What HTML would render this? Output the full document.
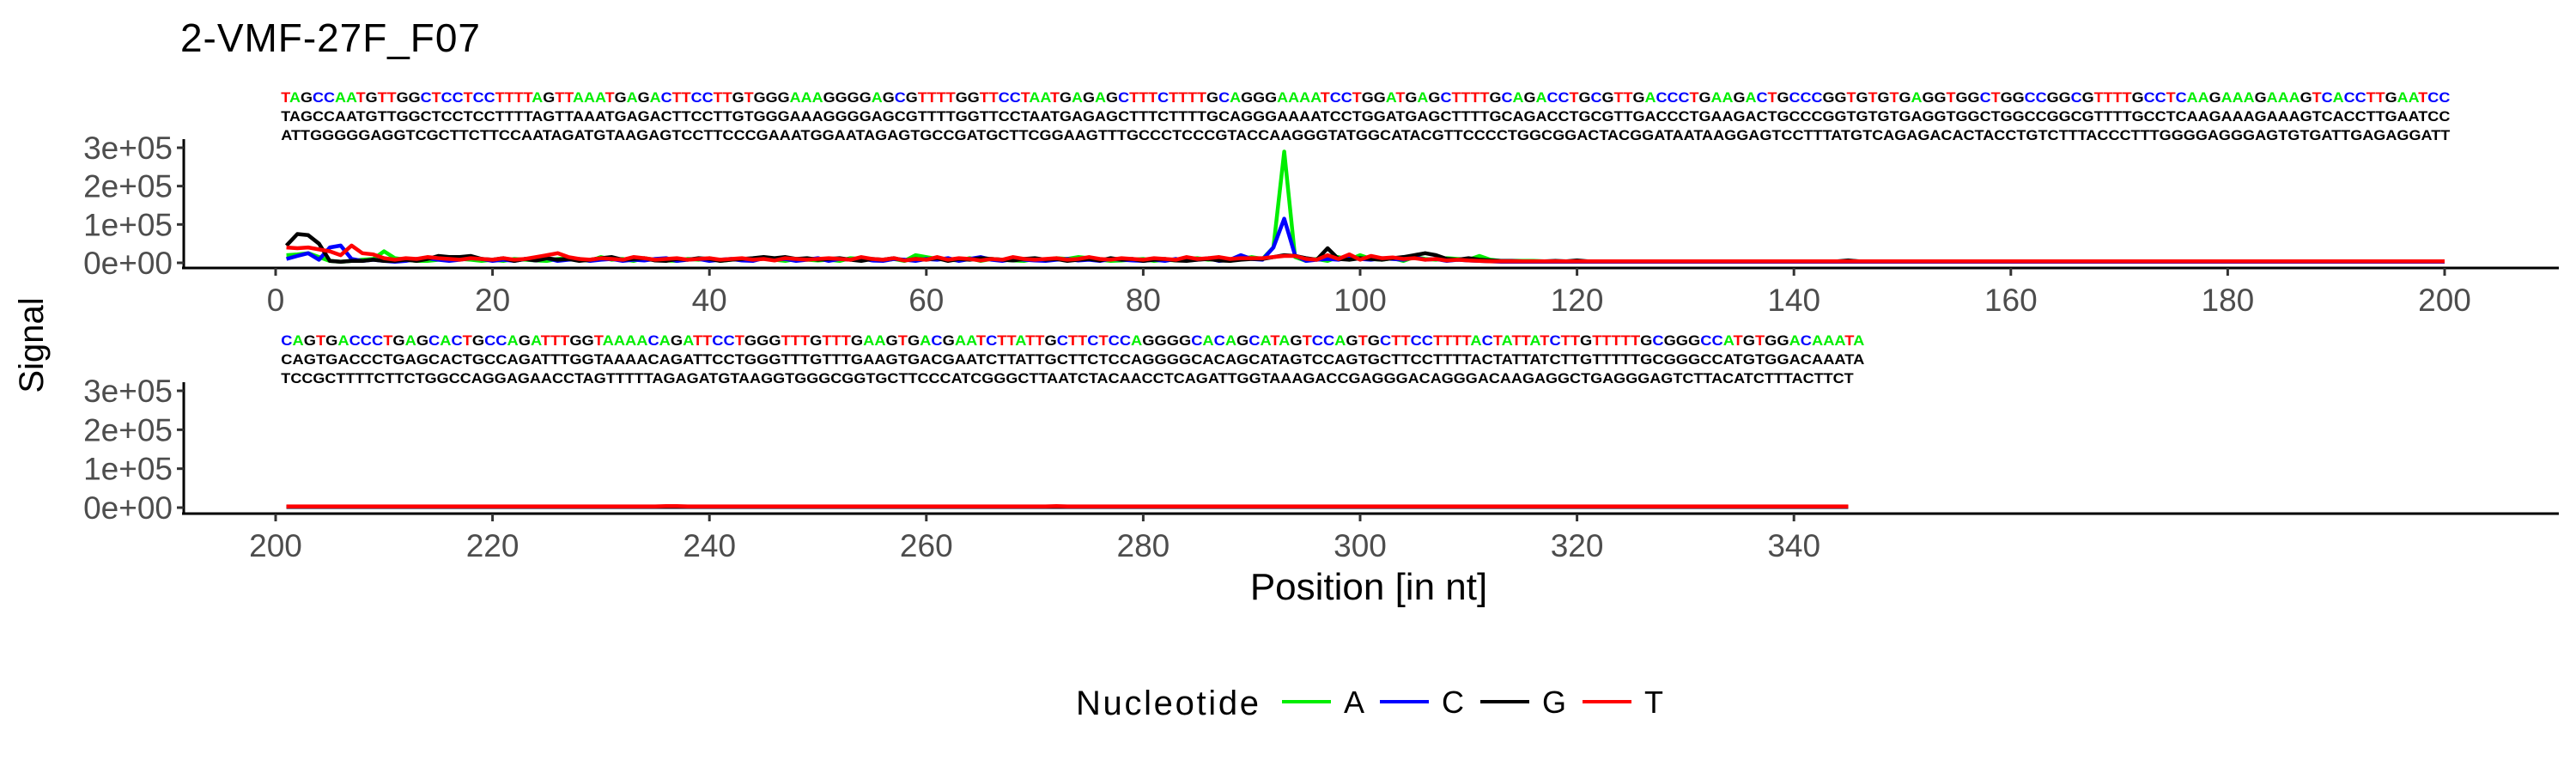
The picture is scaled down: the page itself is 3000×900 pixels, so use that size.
<!DOCTYPE html>
<html><head><meta charset="utf-8"><style>
html,body{margin:0;padding:0;background:#fff;}
svg{display:block;font-family:"Liberation Sans",Arial,sans-serif;}
</style></head><body>
<svg id="chart" width="3000" height="900" viewBox="0 0 3000 900" xmlns="http://www.w3.org/2000/svg">
<rect width="3000" height="900" fill="#fff"/>
<text x="210" y="60" font-size="46" textLength="349" fill="#000">2-VMF-27F_F07</text>
<text transform="translate(50,402) rotate(-90)" font-size="40" text-anchor="middle" fill="#000">Signal</text>
<text x="1594" y="698" font-size="44" text-anchor="middle" fill="#000">Position [in nt]</text>
<g id="legend">
<text x="1253" y="832" font-size="40" textLength="213" fill="#000">Nucleotide</text>
</g>
<g id="plot"></g>
</svg>
<script>
// ---- data (signal values in thousands) ----
const bases = ["A","C","G","T"];
const seq1Called = "TAGCCAATGTTGGCTCCTCCTTTTAGTTAAATGAGACTTCCTTGTGGGAAAGGGGAGCGTTTTGGTTCCTAATGAGAGCTTTCTTTTGCAGGGAAAATCCTGGATGAGCTTTTGCAGACCTGCGTTGACCCTGAAGACTGCCCGGTGTGTGAGGTGGCTGGCCGGCGTTTTGCCTCAAGAAAGAAAGTCACCTTGAATCC";
const seq1Ref = "TAGCCAATGTTGGCTCCTCCTTTTAGTTAAATGAGACTTCCTTGTGGGAAAGGGGAGCGTTTTGGTTCCTAATGAGAGCTTTCTTTTGCAGGGAAAATCCTGGATGAGCTTTTGCAGACCTGCGTTGACCCTGAAGACTGCCCGGTGTGTGAGGTGGCTGGCCGGCGTTTTGCCTCAAGAAAGAAAGTCACCTTGAATCC";
const seq1Rev = "ATTGGGGGAGGTCGCTTCTTCCAATAGATGTAAGAGTCCTTCCCGAAATGGAATAGAGTGCCGATGCTTCGGAAGTTTGCCCTCCCGTACCAAGGGTATGGCATACGTTCCCCTGGCGGACTACGGATAATAAGGAGTCCTTTATGTCAGAGACACTACCTGTCTTTACCCTTTGGGGAGGGAGTGTGATTGAGAGGATT";
const seq2Called = "CAGTGACCCTGAGCACTGCCAGATTTGGTAAAACAGATTCCTGGGTTTGTTTGAAGTGACGAATCTTATTGCTTCTCCAGGGGCACAGCATAGTCCAGTGCTTCCTTTTACTATTATCTTGTTTTTGCGGGCCATGTGGACAAATA";
const seq2Ref = seq2Called;
const seq2Rev = "TCCGCTTTTCTTCTGGCCAGGAGAACCTAGTTTTTAGAGATGTAAGGTGGGCGGTGCTTCCCATCGGGCTTAATCTACAACCTCAGATTGGTAAAGACCGAGGGACAGGGACAAGAGGCTGAGGGAGTCTTACATCTTTACTTCT";

const yTicks = [0,100,200,300];
const yTickLabels = ["0e+00","1e+05","2e+05","3e+05"];
const xTicks1 = [0,20,40,60,80,100,120,140,160,180,200];
const xTicks2 = [200,220,240,260,280,300,320,340];

const sigA1 = [20,22,25,15,5,3,5,8,10,30, 12,8,5,5,8,12,10,8,5,8, 5,10,8,6,5,10,12,8,5,15, 8,10,5,12,8,6,5,10,8,12, 5,8,10,6,12,8,5,10,8,6,
 8,5,12,10,8,6,10,5,20,15, 10,8,6,12,5,10,8,6,5,10, 8,12,10,15,12,8,5,6,8,10, 5,8,6,10,12,8,10,5,10,15, 10,40,290,15,5,10,5,15,8,20,
 10,8,12,5,15,10,8,12,10,8, 18,8,5,5,5,5,4,4,4,4, 3,3,3,3,3,3,3,3,3,3, 3,3,3,3,3,3,3,3,3,3, 3,3,3,3,3,3,3,3,3,3,
 3,3,3,3,3,3,3,3,3,3, 3,3,3,3,3,3,3,3,3,3, 3,3,3,3,3,3,3,3,3,3, 3,3,3,3,3,3,3,3,3,3, 3,3,3,3,3,3,3,3,3,3];
const sigC1 = [10,18,25,8,40,45,10,5,8,5, 3,5,10,12,8,5,8,12,10,5, 8,5,10,6,12,5,8,10,5,8, 10,5,8,6,10,12,5,8,10,5, 8,10,6,5,12,8,10,5,8,12,
 5,10,8,12,6,5,10,8,5,10, 8,12,5,10,15,8,5,10,8,6, 5,8,10,6,8,5,10,8,6,5, 8,5,10,6,8,12,5,8,20,10, 8,40,115,20,5,8,10,8,15,10,
 8,12,10,8,15,8,10,5,8,6, 5,4,3,3,3,3,3,3,3,3, 3,3,3,3,3,3,3,3,3,3, 3,3,3,3,3,3,3,3,3,3, 3,3,3,3,3,3,3,3,3,3,
 3,3,3,3,3,3,3,3,3,3, 3,3,3,3,3,3,3,3,3,3, 3,3,3,3,3,3,3,3,3,3, 3,3,3,3,3,3,3,3,3,3, 3,3,3,3,3,3,3,3,3,3];
const sigG1 = [45,75,72,50,5,3,5,5,8,5, 5,8,5,10,18,15,15,18,10,8, 12,5,10,6,12,8,10,5,8,12, 15,8,10,12,6,5,10,8,12,10, 5,8,10,12,15,12,15,10,12,8,
 10,12,8,5,10,8,12,6,10,8, 12,5,10,8,12,10,8,6,10,12, 8,10,5,8,10,6,12,8,10,5, 8,10,6,5,8,10,6,5,8,10, 10,15,20,18,12,8,38,10,8,12,
 10,8,12,15,20,25,20,10,8,12, 8,6,5,5,4,4,4,5,4,6, 4,4,4,4,4,4,4,4,4,4, 4,4,4,4,4,4,4,4,4,4, 4,4,4,4,6,4,4,4,4,4,
 4,4,4,4,4,4,4,4,4,4, 4,4,4,4,4,4,4,4,4,4, 4,4,4,4,4,4,4,4,4,4, 4,4,4,4,4,4,4,4,4,4, 4,4,4,4,4,4,4,4,4,4];
const sigT1 = [40,38,40,35,30,20,45,25,22,12, 8,12,10,15,12,10,8,12,10,8, 12,8,10,15,20,25,15,10,8,12, 10,8,15,12,8,10,12,8,10,12, 8,10,12,8,10,6,12,10,8,10,
 12,10,8,15,10,8,12,6,10,8, 15,8,12,10,6,10,8,15,10,8, 10,12,8,10,15,10,8,12,10,8, 12,10,8,15,10,12,15,10,12,12, 12,15,18,18,10,8,20,10,22,8,
 18,12,14,10,12,8,10,6,8,6, 5,4,4,4,4,4,4,4,4,4, 4,4,4,4,4,4,4,4,4,4, 4,4,4,4,4,4,4,4,4,4, 4,4,4,4,4,4,4,4,4,4,
 4,4,4,4,4,4,4,4,4,4, 4,4,4,4,4,4,4,4,4,4, 4,4,4,4,4,4,4,4,4,4, 4,4,4,4,4,4,4,4,4,4, 4,4,4,4,4,4,4,4,4,4];

const sigA2 = [2,2,2,2,2,2,2,2,2,2, 2,2,2,2,2,2,2,2,2,2, 2,2,2,2,2,2,2,2,2,2, 2,2,2,2,2,2,2,2,2,2, 2,2,2,2,2,2,2,2,2,2,
 2,2,2,2,2,2,2,2,2,2, 2,2,2,2,2,2,2,2,2,2, 2,2,2,2,2,2,2,2,2,2, 2,2,2,2,2,2,2,2,2,2, 2,2,2,2,2,2,2,2,2,2,
 2,2,2,2,2,2,2,2,2,2, 2,2,2,2,2,2,2,2,2,2, 2,2,2,2,2,2,2,2,2,2, 2,2,2,2,2,2,2,2,2,2, 2,2,2,2,2];
const sigC2 = sigA2.slice();
const sigG2 = sigA2.slice();
const sigT2 = [3,3,3,3,3,3,3,3,3,3, 3,3,3,3,3,3,3,3,3,3, 3,3,3,3,3,3,3,3,3,3, 3,3,3,3,3,4,4,3,3,3, 3,3,3,3,3,3,3,3,3,3,
 3,3,3,3,3,3,3,3,3,3, 3,3,3,3,3,3,3,3,3,3, 3,4,3,3,3,3,3,3,3,3, 3,3,3,3,3,3,3,3,3,3, 3,3,3,3,3,3,3,3,3,3,
 3,3,3,3,3,3,3,3,3,3, 3,3,3,3,3,3,3,3,3,3, 3,3,3,3,3,3,3,3,3,3, 3,3,3,3,3,3,3,3,3,3, 3,3,3,3,3];

const colors = {A:"#00EE00",C:"#0000FF",G:"#000000",T:"#FF0000"};
const NS = "http://www.w3.org/2000/svg";
const plot = document.getElementById("plot");
const PXU = 12.63;

function mk(tag, attrs, parent){
  const e = document.createElementNS(NS, tag);
  for (const k in attrs) e.setAttribute(k, attrs[k]);
  (parent||plot).appendChild(e);
  return e;
}

function drawPanel(p){
  const g = mk("g", {});
  
  
  const xs = v => 321 + (v - p.x0) * PXU;
  const ys = v => p.yZero - v * (p.yZero - p.yTop) / 300;
  const rows = [[p.called, p.rowY[0], true, "called-sequence"], [p.ref, p.rowY[1], false, "reference-sequence"], [p.rev, p.rowY[2], false, "reverse-sequence"]];
  rows.forEach(r => {
    const t = mk("text", {x: xs(p.start) - PXU/2, y: r[1], "font-size": 17, "font-weight": "bold", textLength: (r[0].length * PXU).toFixed(1), lengthAdjust: "spacingAndGlyphs"}, g);
    
    
    for (const ch of r[0]) {
      const s = mk("tspan", {fill: r[2] ? colors[ch] : "#000"}, t);
      s.textContent = ch;
    }
  });
  const series = [["A", p.sA], ["C", p.sC], ["G", p.sG], ["T", p.sT]];
  series.forEach(s => {
    const pts = s[1].map((v, i) => xs(p.start + i).toFixed(1) + "," + ys(v).toFixed(1)).join(" ");
    const l = mk("polyline", {points: pts, fill: "none", stroke: colors[s[0]], "stroke-width": 4.5, "stroke-linejoin": "round"}, g);
    
    
  });
  const ya = mk("line", {x1: 214, x2: 214, y1: p.yTop - 10, y2: p.axisY, stroke: "#000", "stroke-width": 3}, g);
  
  
  const xa = mk("line", {x1: 212, x2: 2980, y1: p.axisY, y2: p.axisY, stroke: "#000", "stroke-width": 3}, g);
  
  
  yTicks.forEach((v, i) => {
    mk("line", {x1: 206, x2: 214, y1: ys(v), y2: ys(v), stroke: "#333", "stroke-width": 3}, g);
    const t = mk("text", {x: 201, y: ys(v) + 13, "font-size": 37, "text-anchor": "end", fill: "#4d4d4d"}, g);
    
    
    t.textContent = yTickLabels[i];
  });
  p.xTicks.forEach(v => {
    mk("line", {x1: xs(v), x2: xs(v), y1: p.axisY, y2: p.axisY + 9, stroke: "#333", "stroke-width": 3}, g);
    const t = mk("text", {x: xs(v), y: p.axisY + 50, "font-size": 37, "text-anchor": "middle", fill: "#4d4d4d"}, g);
    
    
    t.textContent = v;
  });
}

drawPanel({name: "panel-1", x0: 0, start: 1, yTop: 172, yZero: 306, axisY: 312, rowY: [119, 141, 163],
  called: seq1Called, ref: seq1Ref, rev: seq1Rev, sA: sigA1, sC: sigC1, sG: sigG1, sT: sigT1, xTicks: xTicks1});
drawPanel({name: "panel-2", x0: 200, start: 201, yTop: 455, yZero: 591, axisY: 598, rowY: [402, 424, 446],
  called: seq2Called, ref: seq2Ref, rev: seq2Rev, sA: sigA2, sC: sigC2, sG: sigG2, sT: sigT2, xTicks: xTicks2});

const legend = document.getElementById("legend");
const keyX = [1493, 1607, 1724, 1843];
bases.forEach((b, i) => {
  const l = document.createElementNS(NS, "line");
  l.setAttribute("x1", keyX[i]); l.setAttribute("x2", keyX[i] + 57);
  l.setAttribute("y1", 817); l.setAttribute("y2", 817);
  l.setAttribute("stroke", colors[b]); l.setAttribute("stroke-width", 4);
  
  
  legend.appendChild(l);
  const t = document.createElementNS(NS, "text");
  t.setAttribute("x", keyX[i] + 72); t.setAttribute("y", 830);
  t.setAttribute("font-size", 36);
  
  
  t.textContent = b;
  legend.appendChild(t);
});
</script>
</body></html>
